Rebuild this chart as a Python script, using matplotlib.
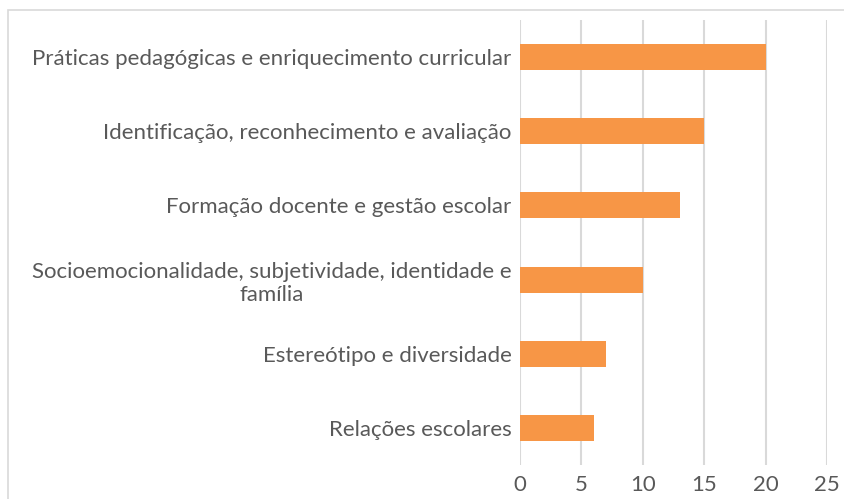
import matplotlib.pyplot as plt
from matplotlib.patches import Rectangle

categories = [
    'Práticas pedagógicas e enriquecimento curricular',
    'Identificação, reconhecimento e avaliação',
    'Formação docente e gestão escolar',
    'Socioemocionalidade, subjetividade, identidade e\nfamília',
    'Estereótipo e diversidade',
    'Relações escolares',
]
values = [20, 15, 13, 10, 7, 6]
xticks = [0, 5, 10, 15, 20, 25]

plt.rcParams['font.family'] = ['Lato', 'DejaVu Sans']

fig = plt.figure(figsize=(8.45, 4.99), dpi=100)
ax = fig.add_axes([520/845, 1 - 465/499, 307/845, 445/499])

# moldura do gráfico (estilo Excel)
fig.patches.append(Rectangle((8/845, -0.1), 1.2, 1 - 10/499 + 0.1, transform=fig.transFigure,
                             fill=False, edgecolor='#d9d9d9', linewidth=1.2))

y = list(range(len(categories)))
ax.barh(y, values, height=0.35, color='#F79646', zorder=3)
ax.set_ylim(len(categories) - 0.5, -0.5)
ax.set_xlim(0, 25)
ax.set_xticks(xticks)
ax.set_yticks(y)

ax.grid(axis='x', color='#d9d9d9', linewidth=1.5, zorder=0)
for s in ax.spines.values():
    s.set_visible(False)
ax.tick_params(axis='both', length=0, labelsize=16, colors='#595959')
ax.tick_params(axis='x', pad=7)
ax.tick_params(axis='y', pad=6)
ax.set_yticklabels(categories, multialignment='center')

fig.savefig('out.png', dpi=100)
